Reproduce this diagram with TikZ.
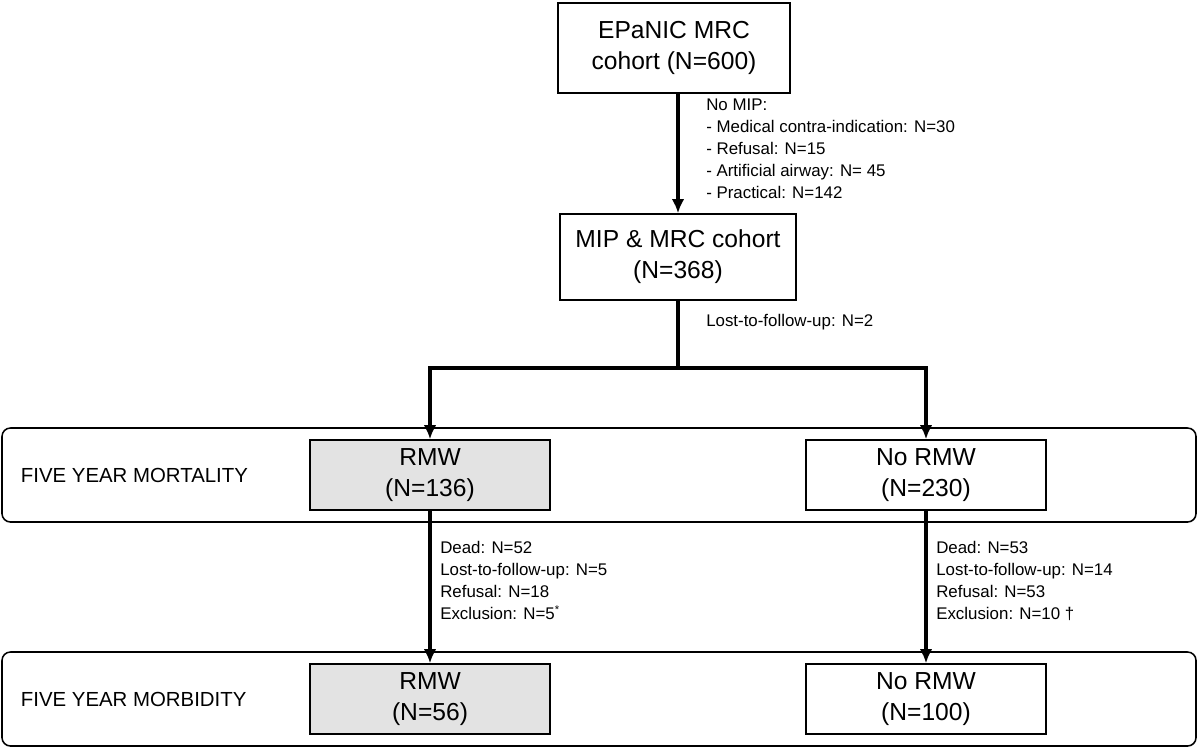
\documentclass[tikz,border=0pt]{standalone}
\usepackage{fontspec}
\setmainfont{Liberation Sans}
\usetikzlibrary{arrows.meta}
\tikzset{
  box/.style={draw,line width=1.1pt,minimum width=6cm,minimum height=1.75cm,align=center,font=\fontsize{17.5}{22}\selectfont},
  band/.style={draw,line width=1.1pt,rounded corners=6pt},
  note/.style={align=left,anchor=north west,font=\fontsize{12}{15.6}\selectfont,inner sep=0pt},
  flow/.style={line width=2.6pt,-{Latex[length=10pt,width=9pt]}},
  bar/.style={line width=2.6pt}
}
\begin{document}
\begin{tikzpicture}[x=0.025cm,y=-0.025cm]
\useasboundingbox (0,0) rectangle (1200,749);
% bands
\draw[band] (2,428) rectangle (1196,522);
\draw[band] (2,652) rectangle (1196,746);
\node[anchor=west,font=\fontsize{14.5}{17}\selectfont] (mortlab) at (16,475) {FIVE YEAR MORTALITY};
\node[anchor=west,font=\fontsize{14.5}{17}\selectfont] (morblab) at (16,699) {FIVE YEAR MORBIDITY};
% boxes
\node[box,minimum width=5.8cm,minimum height=2.25cm] (epanic) at (674,48) {EPaNIC MRC\\cohort (N=600)};
\node[box,minimum width=5.9cm,minimum height=2.15cm] (mip) at (678,257) {MIP \& MRC cohort\\(N=368)};
\node[box,fill=gray!22] (rmw1) at (430,475) {RMW\\(N=136)};
\node[box] (normw1) at (926,475) {No RMW\\(N=230)};
\node[box,fill=gray!22] (rmw2) at (430,699) {RMW\\(N=56)};
\node[box] (normw2) at (926,699) {No RMW\\(N=100)};
% connectors
\draw[flow] (epanic.south -| mip.north) -- (mip.north);
\coordinate (split) at (678,368);
\draw[bar] (mip.south) -- (split);
\draw[flow] (split) -| (rmw1.north);
\draw[flow] (split) -| (normw1.north);
\draw[flow] (rmw1) -- (rmw2);
\draw[flow] (normw1) -- (normw2);
% notes
\node[note] (nomip) at (706,99) {No MIP:\\- Medical contra-indication: N=30\\- Refusal: N=15\\- Artificial airway: N= 45\\- Practical: N=142};
\node[note] (lost) at (706,314) {Lost-to-follow-up: N=2};
\node[note] (left) at (440,541) {Dead: N=52\\Lost-to-follow-up: N=5\\Refusal: N=18\\Exclusion: N=5\textsuperscript{*}};
\node[note] (right) at (936,541) {Dead: N=53\\Lost-to-follow-up: N=14\\Refusal: N=53\\Exclusion: N=10 †};
\end{tikzpicture}
\end{document}
